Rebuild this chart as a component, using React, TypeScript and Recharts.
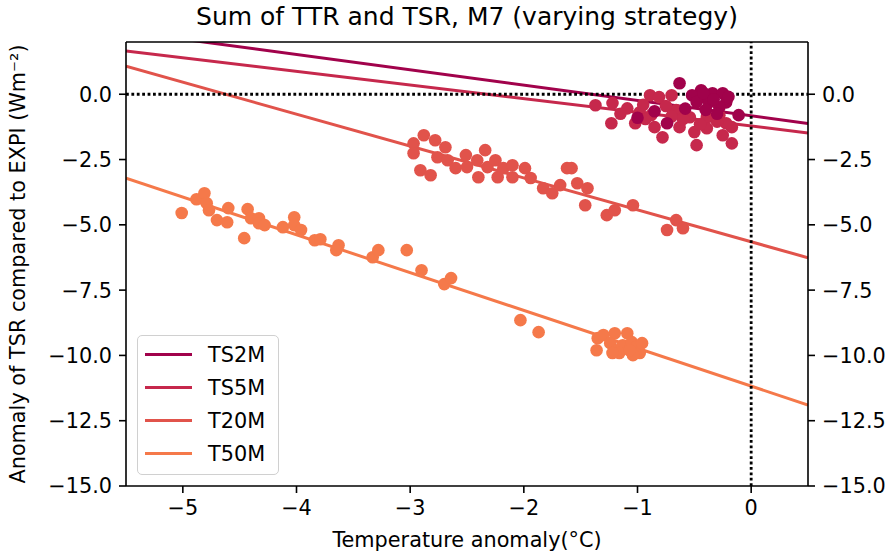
import React from 'react';
import { ScatterChart, Scatter, XAxis, YAxis, ReferenceLine, Legend, Label } from 'recharts';

const seriesNames = ['TS2M', 'TS5M', 'T20M', 'T50M'];
const seriesColors = ['#a1024b', '#c6284c', '#e1534b', '#f5794a'];

const ts2mX = [-0.63, -0.44, -0.43, -0.34, -0.25, -0.22, -0.37, -0.11, -0.74, -0.52, -0.28, -0.48, -0.58, -0.3, -0.4, -0.2, -0.85, -1.0, -0.42, -0.33];
const ts2mY = [0.42, 0.15, -0.11, 0.04, 0.04, -0.31, -0.31, -0.8, -1.11, -0.04, -0.5, -0.3, -0.55, -0.75, -0.6, -0.1, -0.65, -0.9, 0.05, -0.2];

const ts5mX = [-1.37, -1.22, -1.23, -1.09, -1.02, -0.89, -0.81, -0.88, -0.85, -0.78, -0.7, -0.66, -0.63, -0.54, -0.48, -0.5, -0.39, -0.39, -0.28, -0.25, -0.17, -0.17, -0.22, -0.98, -0.95, -0.75, -0.6, -0.45, -0.3, -0.7, -0.93, -1.15];
const ts5mY = [-0.42, -0.34, -1.11, -0.54, -1.11, -0.04, -0.11, -0.8, -1.26, -1.65, -0.04, -0.61, -1.26, -0.88, -1.95, -1.45, -0.88, -1.3, -0.8, -1.57, -1.88, -1.26, -1.11, -0.69, -0.4, -0.45, -0.95, -1.15, -1.05, -0.85, -0.95, -0.75];

const t20mX = [-2.88, -2.97, -2.97, -2.91, -2.82, -2.78, -2.76, -2.69, -2.67, -2.6, -2.51, -2.5, -2.41, -2.34, -2.4, -2.32, -2.25, -2.23, -2.18, -2.1, -2.1, -1.99, -1.94, -1.83, -1.75, -1.68, -1.62, -1.58, -1.53, -1.44, -1.46, -1.27, -1.2, -1.04, -0.74, -0.66, -0.6];
const t20mY = [-1.57, -1.88, -2.26, -2.91, -3.1, -1.76, -2.41, -2.03, -2.53, -2.83, -2.33, -2.79, -2.53, -2.14, -3.18, -2.79, -2.53, -3.18, -2.83, -2.72, -3.18, -2.83, -3.21, -3.6, -3.79, -3.48, -2.83, -2.83, -3.41, -3.6, -4.25, -4.63, -4.44, -4.25, -5.2, -4.82, -5.13];

const t50mX = [-5.01, -4.88, -4.81, -4.79, -4.77, -4.7, -4.61, -4.6, -4.46, -4.43, -4.4, -4.33, -4.33, -4.28, -4.12, -4.02, -4.02, -3.96, -3.84, -3.79, -3.63, -3.65, -3.33, -3.28, -3.03, -2.9, -2.7, -2.64, -2.03, -1.87, -1.35, -1.36, -1.3, -1.2, -1.09, -1.24, -1.18, -1.13, -1.05, -1.01, -0.98, -0.96, -1.16, -1.22, -1.04, -1.07];
const t50mY = [-4.55, -4.02, -3.79, -4.17, -4.44, -4.82, -4.9, -4.36, -5.51, -4.4, -4.75, -4.75, -4.94, -5.01, -5.09, -4.71, -5.01, -5.2, -5.59, -5.55, -5.78, -5.97, -6.24, -5.97, -5.97, -6.74, -7.27, -7.04, -8.65, -9.11, -9.34, -9.8, -9.22, -9.15, -9.15, -9.53, -9.8, -9.61, -9.49, -9.68, -9.91, -9.53, -9.91, -9.91, -9.99, -9.8];

// regression lines, at the two ends of the x range
const fitX = [-5.5, 0.5];
const fitStartY = [2.4, 1.66, 1.07, -3.21];
const fitEndY = [-1.12, -1.48, -6.26, -11.9];

const xTicks = [-5, -4, -3, -2, -1, 0];
const yTicks = [-15, -12.5, -10, -7.5, -5, -2.5, 0];
const yDomain = [-15, 2];

const seriesX = [ts2mX, ts5mX, t20mX, t50mX];
const seriesY = [ts2mY, ts5mY, t20mY, t50mY];

const series = seriesNames.map((name, i) => ({
  name,
  color: seriesColors[i],
  data: seriesX[i].map((x, j) => ({ x, y: seriesY[i][j] })),
  fit: [
    { x: fitX[0], y: fitStartY[i] },
    { x: fitX[1], y: fitEndY[i] },
  ],
}));

const FONT = 'DejaVu Sans';
const minus = (s: string) => s.replace('-', '\u2212');

const LegendBox = () => (
  <div
    style={{
      width: 142,
      height: 140,
      boxSizing: 'border-box',
      border: '1px solid #d0d0d0',
      borderRadius: 5,
      background: 'rgba(255,255,255,0.8)',
      padding: '2px 0 0 7px',
      fontFamily: FONT,
    }}
  >
    {series.map((s) => (
      <div key={s.name} style={{ display: 'flex', alignItems: 'center', height: 33 }}>
        <div style={{ width: 47, height: 3, background: s.color, marginRight: 16 }} />
        <span style={{ fontSize: 20.8, color: '#000' }}>{s.name}</span>
      </div>
    ))}
  </div>
);

const App: React.FC = () => {
  return (
    <div style={{ position: 'absolute', left: 0, top: 0, width: 894, height: 556, background: '#fff', fontFamily: FONT }}>
      <div
        style={{
          position: 'absolute',
          top: 4,
          left: 126,
          width: 682,
          textAlign: 'center',
          fontSize: 25,
          lineHeight: '25px',
          color: '#000',
        }}
      >
        Sum of TTR and TSR, M7 (varying strategy)
      </div>
      <ScatterChart width={894} height={556} margin={{ top: 42, right: 0, bottom: 0, left: 0 }}>
        <XAxis
          type="number"
          dataKey="x"
          domain={[-5.5, 0.5]}
          ticks={xTicks}
          allowDataOverflow
          height={70}
          stroke="#000"
          strokeWidth={1.6}
          tickSize={7}
          tickMargin={7}
          tick={{ fill: '#000', fontSize: 20.8, fontFamily: FONT }}
          tickFormatter={(v: number) => minus(String(v))}
        >
          <Label
            content={({ viewBox }: any) => (
              <text
                x={viewBox.x + viewBox.width / 2}
                y={viewBox.y + 61}
                textAnchor="middle"
                fontSize={20.8}
                fontFamily={FONT}
                fill="#000"
              >
                Temperature anomaly(°C)
              </text>
            )}
          />
        </XAxis>
        <YAxis
          yAxisId="left"
          type="number"
          dataKey="y"
          domain={yDomain}
          ticks={yTicks}
          allowDataOverflow
          width={126}
          stroke="#000"
          strokeWidth={1.6}
          tickSize={7}
          tickMargin={7}
          tick={{ fill: '#000', fontSize: 20.8, fontFamily: FONT }}
          tickFormatter={(v: number) => minus(v.toFixed(1))}
        >
          <Label
            content={({ viewBox }: any) => {
              const cx = viewBox.x + 25;
              const cy = viewBox.y + viewBox.height / 2;
              return (
                <text
                  x={cx}
                  y={cy}
                  transform={`rotate(-90, ${cx}, ${cy})`}
                  textAnchor="middle"
                  fontSize={20.8}
                  fontFamily={FONT}
                  fill="#000"
                >
                  Anomaly of TSR compared to EXPI (Wm⁻²)
                </text>
              );
            }}
          />
        </YAxis>
        <YAxis
          yAxisId="right"
          orientation="right"
          type="number"
          dataKey="y"
          domain={yDomain}
          ticks={yTicks}
          allowDataOverflow
          width={86}
          stroke="#000"
          strokeWidth={1.6}
          tickSize={7}
          tickMargin={7}
          tick={{ fill: '#000', fontSize: 20.8, fontFamily: FONT }}
          tickFormatter={(v: number) => minus(v.toFixed(1))}
        />
        {[...series].reverse().map((s) => (
          <Scatter
            key={s.name}
            name={s.name}
            data={s.data}
            yAxisId="left"
            fill={s.color}
            isAnimationActive={false}
            shape={(p: any) => <circle cx={p.cx} cy={p.cy} r={6.3} fill={s.color} />}
          />
        ))}
        {[...series].reverse().map((s) => (
          <ReferenceLine
            key={s.name + '-fit'}
            yAxisId="left"
            segment={s.fit}
            stroke={s.color}
            strokeWidth={3}
            ifOverflow="hidden"
          />
        ))}
        <ReferenceLine yAxisId="left" y={0} stroke="#000" strokeWidth={2.8} strokeDasharray="2.8 2.6" />
        <ReferenceLine yAxisId="left" x={0} stroke="#000" strokeWidth={2.8} strokeDasharray="2.8 2.6" />
        {/* top spine */}
        <ReferenceLine yAxisId="left" y={yDomain[1]} stroke="#000" strokeWidth={1.6} />
        <Legend
          layout="vertical"
          align="center"
          verticalAlign="middle"
          wrapperStyle={{ left: 137, top: 335, width: 142, height: 140 }}
          content={() => <LegendBox />}
        />
      </ScatterChart>
    </div>
  );
};

export default App;
